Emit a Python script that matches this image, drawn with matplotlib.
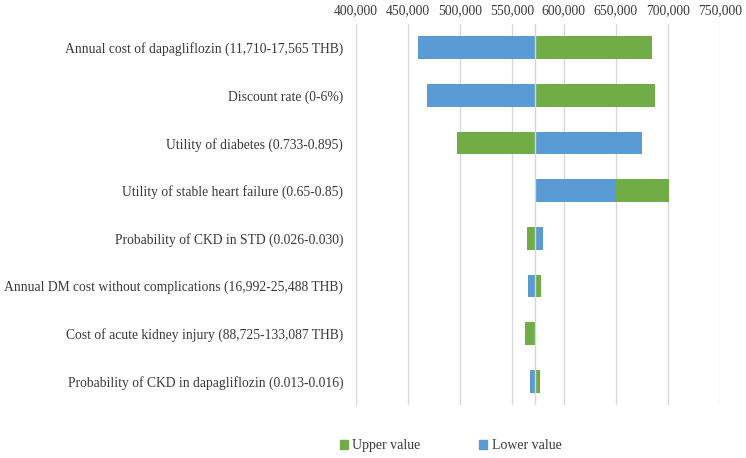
"""Tornado diagram: one-way sensitivity of the ICER (THB/QALY)."""

import matplotlib.pyplot as plt
from matplotlib.patches import Patch
from matplotlib.ticker import FuncFormatter

plt.rcParams["font.family"] = ["Liberation Serif", "DejaVu Serif"]

parameters = [
    "Annual cost of dapagliflozin (11,710-17,565 THB)",
    "Discount rate (0-6%)",
    "Utility of diabetes (0.733-0.895)",
    "Utility of stable heart failure (0.65-0.85)",
    "Probability of CKD in STD (0.026-0.030)",
    "Annual DM cost without complications (16,992-25,488 THB)",
    "Cost of acute kidney injury (88,725-133,087 THB)",
    "Probability of CKD in dapagliflozin (0.013-0.016)",
]
base_icer = 572_000
upper_icer = [685_000, 688_000, 497_000, 701_000, 564_600, 578_400, 562_300, 577_500]
lower_icer = [460_000, 468_600, 675_000, 650_000, 580_000, 566_000, 572_000, 567_200]
x_ticks = [400_000, 450_000, 500_000, 550_000, 600_000, 650_000, 700_000, 750_000]

GREEN = "#70ad47"
BLUE = "#5b9bd5"
GRID = "#d9d9d9"

fig = plt.figure(figsize=(7.46, 4.58), dpi=100)
ax = fig.add_axes([0.477, 0.1157, 0.4877, 0.8319])

rows = list(range(len(parameters)))
ax.barh(rows, [u - base_icer for u in upper_icer], left=base_icer,
        height=0.48, color=GREEN, zorder=2)
ax.barh(rows, [l - base_icer for l in lower_icer], left=base_icer,
        height=0.48, color=BLUE, zorder=3)
ax.axvline(base_icer, color="#d6d6d6", lw=1.0, zorder=4)

ax.set_xlim(400_000, 750_000)
ax.set_ylim(len(parameters) - 0.5, -0.5)
ax.set_xticks(x_ticks)
ax.xaxis.set_major_formatter(FuncFormatter(lambda v, _: f"{int(v):,}"))
ax.xaxis.tick_top()
ax.set_yticks(rows)
ax.set_yticklabels(parameters)
ax.tick_params(axis="both", length=0, labelsize=9.8, colors="#3a3a3a")
ax.tick_params(axis="y", pad=9)
ax.tick_params(axis="x", pad=5)
ax.grid(axis="x", color=GRID, lw=1.0, zorder=0)
ax.set_axisbelow(True)
for side in ("top", "right", "bottom"):
    ax.spines[side].set_visible(False)
ax.spines["left"].set_color(GRID)

handles = [Patch(color=GREEN, label="Upper value"), Patch(color=BLUE, label="Lower value")]
fig.legend(handles=handles, loc="center", bbox_to_anchor=(0.604, 0.027), ncol=2,
           frameon=False, fontsize=10, handlelength=0.6, handleheight=0.6,
           handletextpad=0.3, columnspacing=4.2, labelcolor="#3a3a3a")

fig.savefig("out.png", dpi=100)
